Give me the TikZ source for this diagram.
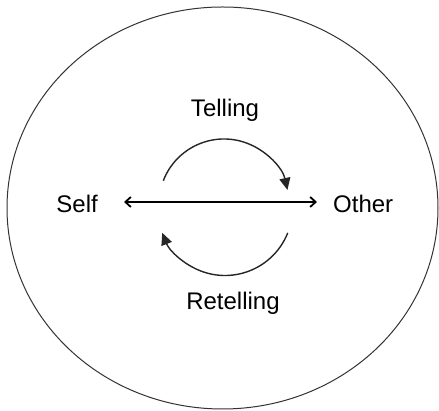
\documentclass[tikz,border=0pt]{standalone}
\usepackage{fontspec}
\setmainfont{Liberation Sans}
\usetikzlibrary{arrows.meta}
\begin{document}
\begin{tikzpicture}[x=1pt,y=1pt,
  lbl/.style={inner sep=0pt,font=\fontsize{24}{28}\selectfont},
  side/.style={lbl,text height=21pt,text depth=0pt},
  cyc/.style={line width=1.4pt,draw=black!85,-{Triangle[length=12pt,width=11pt]}},
  link/.style={line width=1.8pt,{Straight Barb[length=5.5pt,width=10pt]}-{Straight Barb[length=5.5pt,width=10pt]}}]
\useasboundingbox (0,0) rectangle (439,411);
\draw[line width=1pt,black!80] (222.5,203) ellipse [x radius=215.5,y radius=201];
\node[side,anchor=east] (self) at (98,209) {Self};
\node[side,anchor=west] (other) at (333,209) {Other};
\node[lbl,anchor=base] (tell) at (225,294) {Telling};
\node[lbl,anchor=base] (retell) at (233,101) {Retelling};
\draw[link,shorten <=26pt,shorten >=16pt] (self.east) -- (other.west);
\draw[cyc] (224,207) ++(159:65) arc[start angle=159,end angle=12.5,radius=65];
\draw[cyc] (225,203) ++(-21.6:67.5) arc[start angle=-21.6,end angle=-158.4,radius=67.5];
\end{tikzpicture}
\end{document}
